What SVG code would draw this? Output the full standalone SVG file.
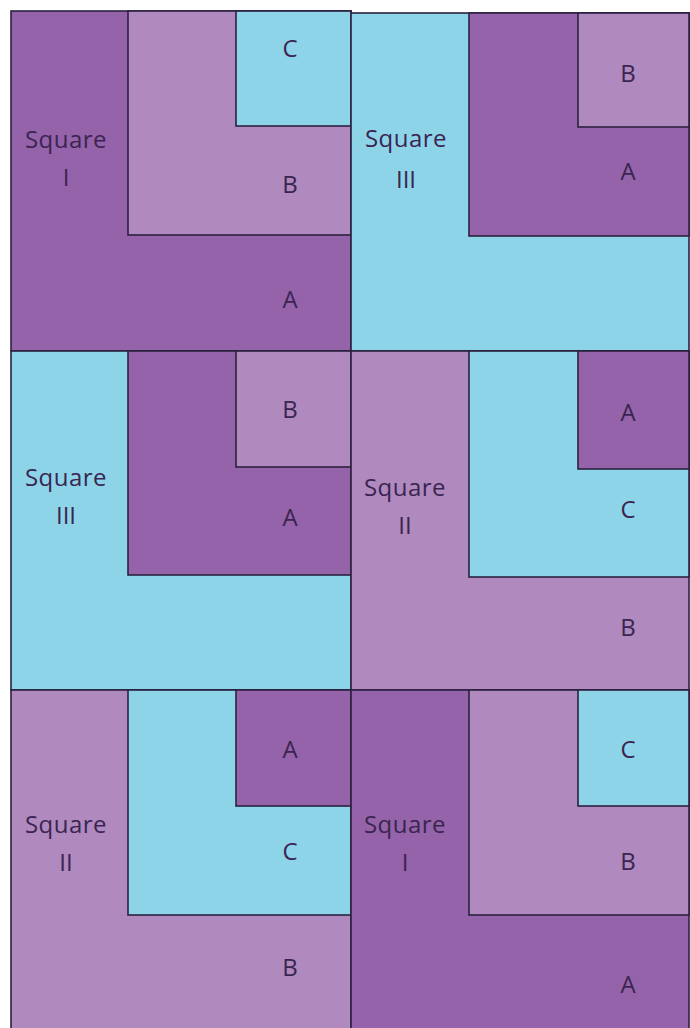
<svg xmlns="http://www.w3.org/2000/svg" width="690" height="1028" viewBox="0 0 690 1028">
<style>
.dp{fill:#9563aa}
.lp{fill:#b089bf}
.cy{fill:#8dd4e9}
.dp,.lp,.cy{stroke:#2b2140;stroke-width:1.6}
text{font-family:"Open Sans","DejaVu Sans",sans-serif;font-size:24px;fill:#3a2550;text-anchor:middle}
.s{letter-spacing:0.5px}
</style>
<rect width="690" height="1028" fill="#ffffff"/>
<g id="block-r1c1">
<rect class="dp" x="11" y="11" width="340" height="340"/>
<rect class="lp" x="128" y="11" width="223" height="224"/>
<rect class="cy" x="236" y="11" width="115" height="115"/>
<text class="s" x="66" y="148">Square</text><text x="66" y="186">I</text>
<text x="290" y="57">C</text><text x="290" y="193">B</text><text x="290" y="308">A</text>
</g>
<g id="block-r1c2">
<rect class="cy" x="351" y="13" width="338" height="338"/>
<rect class="dp" x="469" y="13" width="220" height="223"/>
<rect class="lp" x="578" y="13" width="111" height="114"/>
<text class="s" x="406" y="147">Square</text><text x="406" y="188">III</text>
<text x="628" y="82">B</text><text x="628" y="180">A</text>
</g>
<g id="block-r2c1">
<rect class="cy" x="11" y="351" width="340" height="339"/>
<rect class="dp" x="128" y="351" width="223" height="224"/>
<rect class="lp" x="236" y="351" width="115" height="116"/>
<text class="s" x="66" y="486">Square</text><text x="66" y="524">III</text>
<text x="290" y="418">B</text><text x="290" y="526">A</text>
</g>
<g id="block-r2c2">
<rect class="lp" x="351" y="351" width="338" height="339"/>
<rect class="cy" x="469" y="351" width="220" height="226"/>
<rect class="dp" x="578" y="351" width="111" height="118"/>
<text class="s" x="405" y="496">Square</text><text x="405" y="534">II</text>
<text x="628" y="421">A</text><text x="628" y="518">C</text><text x="628" y="636">B</text>
</g>
<g id="block-r3c1">
<rect class="lp" x="11" y="690" width="340" height="340"/>
<rect class="cy" x="128" y="690" width="223" height="225"/>
<rect class="dp" x="236" y="690" width="115" height="116"/>
<text class="s" x="66" y="833">Square</text><text x="66" y="871">II</text>
<text x="290" y="758">A</text><text x="290" y="860">C</text><text x="290" y="976">B</text>
</g>
<g id="block-r3c2">
<rect class="dp" x="351" y="690" width="338" height="340"/>
<rect class="lp" x="469" y="690" width="220" height="225"/>
<rect class="cy" x="578" y="690" width="111" height="116"/>
<text class="s" x="405" y="833">Square</text><text x="405" y="871">I</text>
<text x="628" y="758">C</text><text x="628" y="870">B</text><text x="628" y="993">A</text>
</g>
</svg>
